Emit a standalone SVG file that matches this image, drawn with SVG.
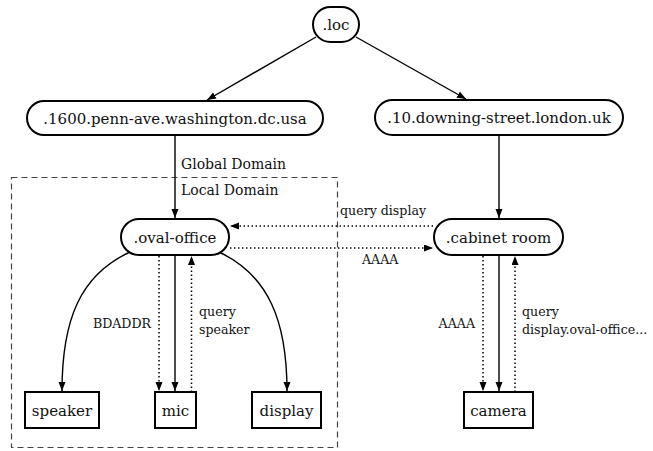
<svg xmlns="http://www.w3.org/2000/svg" width="653" height="451" viewBox="0 0 653 451">
  <style>
    text { font-family: "DejaVu Serif", serif; fill: #111; }
    .nt { font-size: 15px; text-anchor: middle; }
    .dom { font-size: 14px; }
    .lbl { font-size: 12.6px; }
    .node rect { fill: #fff; stroke: #000; stroke-width: 2; }
    .edge { fill: none; stroke: #000; stroke-width: 1.4; }
    .dot { fill: none; stroke: #000; stroke-width: 1.5; stroke-dasharray: 1.4 2.6; }
    .zone { fill: none; stroke: #444; stroke-width: 1.2; stroke-dasharray: 6 4; }
  </style>
  <defs>
    <marker id="arrow" markerUnits="userSpaceOnUse" markerWidth="10" markerHeight="8" refX="9" refY="3.5" orient="auto">
      <path d="M0,0 L9,3.5 L0,7 z" fill="#000"/>
    </marker>
  </defs>

  <rect fill="#fff" x="0" y="0" width="653" height="451"/>

  <!-- local domain boundary -->
  <rect class="zone" x="11.5" y="177.5" width="326" height="270"/>

  <!-- connectors -->
  <g id="connectors">
    <line class="edge" x1="316" y1="37" x2="207" y2="100" marker-end="url(#arrow)"/>
    <line class="edge" x1="356" y1="37" x2="466" y2="99" marker-end="url(#arrow)"/>
    <line class="edge" x1="175" y1="135" x2="175" y2="218" marker-end="url(#arrow)"/>
    <line class="edge" x1="499" y1="135" x2="499" y2="218" marker-end="url(#arrow)"/>
    <line class="dot" x1="433" y1="226" x2="230" y2="226" marker-end="url(#arrow)"/>
    <line class="dot" x1="230" y1="248" x2="433" y2="248" marker-end="url(#arrow)"/>
    <path class="edge" d="M130,252 C80,275 62,320 62,391" marker-end="url(#arrow)"/>
    <path class="edge" d="M219,252 C268,275 287,320 287,391" marker-end="url(#arrow)"/>
    <line class="dot" x1="159" y1="256" x2="159" y2="391" marker-end="url(#arrow)"/>
    <line class="edge" x1="175" y1="255" x2="175" y2="391" marker-end="url(#arrow)"/>
    <line class="dot" x1="191.5" y1="392" x2="191.5" y2="256" marker-end="url(#arrow)"/>
    <line class="dot" x1="483" y1="256" x2="483" y2="391" marker-end="url(#arrow)"/>
    <line class="edge" x1="499" y1="255" x2="499" y2="391" marker-end="url(#arrow)"/>
    <line class="dot" x1="515" y1="392" x2="515" y2="256" marker-end="url(#arrow)"/>
  </g>

  <!-- connector labels -->
  <g id="labels">
    <text class="dom" x="181" y="169">Global Domain</text>
    <text class="dom" x="181" y="195">Local Domain</text>
    <text class="lbl" x="340" y="215">query display</text>
    <text class="lbl" x="362" y="264">AAAA</text>
    <text class="lbl" x="151" y="328" text-anchor="end">BDADDR</text>
    <text class="lbl" x="199" y="316">query</text>
    <text class="lbl" x="199" y="334">speaker</text>
    <text class="lbl" x="475" y="328" text-anchor="end">AAAA</text>
    <text class="lbl" x="522" y="316">query</text>
    <text class="lbl" x="522" y="334">display.oval-office...</text>
  </g>

  <!-- nodes -->
  <g id="loc" class="node">
    <rect x="313" y="7" width="46" height="35" rx="17.5"/>
    <text class="nt" x="336" y="30">.loc</text>
  </g>
  <g id="penn" class="node">
    <rect x="27" y="101" width="296" height="34" rx="17"/>
    <text class="nt" x="175" y="123.5">.1600.penn-ave.washington.dc.usa</text>
  </g>
  <g id="downing" class="node">
    <rect x="375" y="100" width="248" height="35" rx="17.5"/>
    <text class="nt" x="499" y="123">.10.downing-street.london.uk</text>
  </g>
  <g id="oval-office" class="node">
    <rect x="121" y="219" width="108" height="36" rx="18"/>
    <text class="nt" x="175" y="242.5">.oval-office</text>
  </g>
  <g id="cabinet-room" class="node">
    <rect x="434" y="219" width="129" height="36" rx="18"/>
    <text class="nt" x="498.5" y="242.5">.cabinet room</text>
  </g>
  <g id="speaker" class="node">
    <rect x="25" y="392" width="74" height="36"/>
    <text class="nt" x="62" y="415.5">speaker</text>
  </g>
  <g id="mic" class="node">
    <rect x="155" y="392" width="41" height="36"/>
    <text class="nt" x="175.5" y="415.5">mic</text>
  </g>
  <g id="display" class="node">
    <rect x="252" y="392" width="69" height="36"/>
    <text class="nt" x="286.5" y="415.5">display</text>
  </g>
  <g id="camera" class="node">
    <rect x="464" y="392" width="69" height="36"/>
    <text class="nt" x="498.5" y="415.5">camera</text>
  </g>
</svg>
